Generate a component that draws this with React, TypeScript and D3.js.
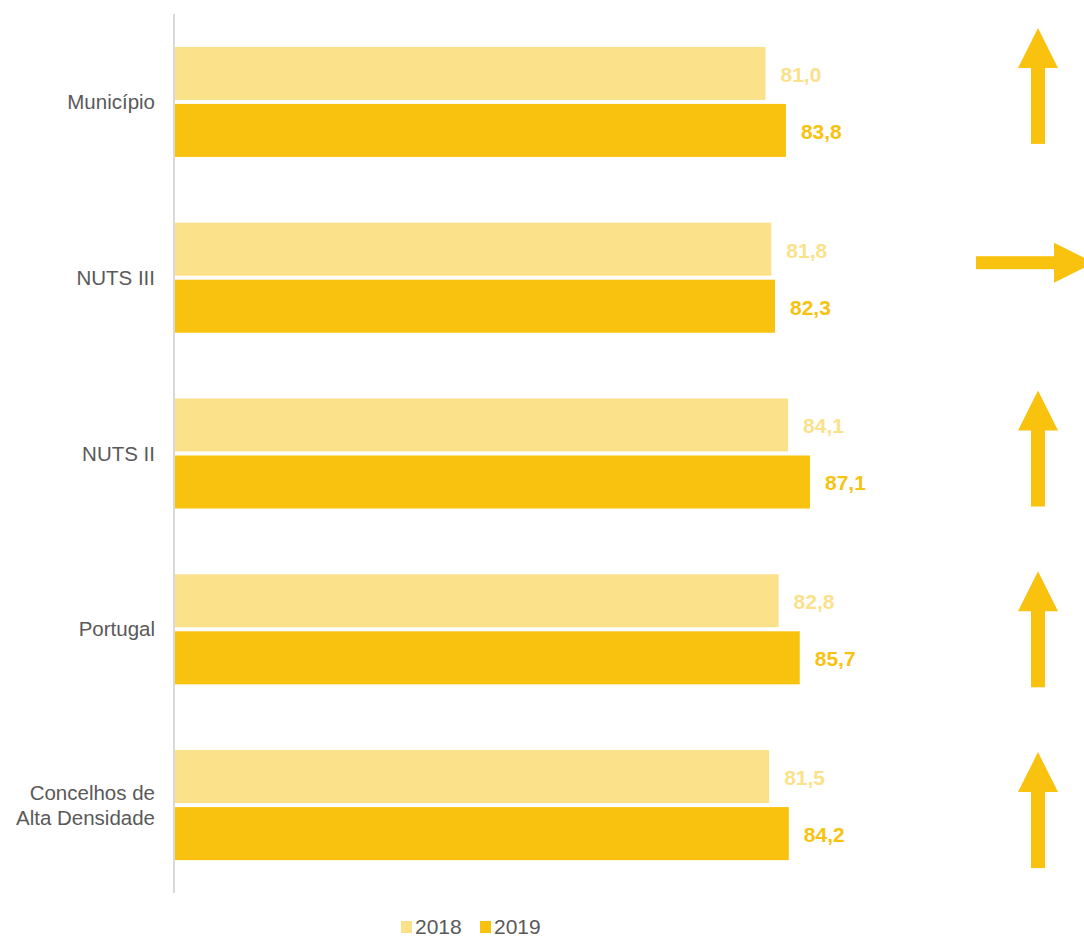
import React from "react";
import * as d3 from "d3";

const categories = ["Município", "NUTS III", "NUTS II", "Portugal", "Concelhos de\nAlta Densidade"];
const seriesNames = ["2018", "2019"];
const values2018 = [81.0, 81.8, 84.1, 82.8, 81.5];
const values2019 = [83.8, 82.3, 87.1, 85.7, 84.2];
const trends = ["up", "right", "up", "up", "up"];
const trendOffsets = [-16, -15, -5, 0, 5];

const colors: Record<string, string> = { "2018": "#FBE18A", "2019": "#F9C20E" };
const W = 1084;
const H = 937;
const FONT = "'Liberation Sans', Arial, sans-serif";

export default function App() {
  const x = d3.scaleLinear().domain([0, 100]).range([175, 904]);
  const y = d3
    .scaleBand<string>()
    .domain(categories)
    .range([14, 893])
    .paddingInner(0.374)
    .paddingOuter(0.187);
  const inner = d3
    .scaleBand<string>()
    .domain(seriesNames)
    .range([0, y.bandwidth()])
    .paddingInner(0.07);
  const fmt = (v: number) => v.toFixed(1).replace(".", ",");
  const seriesVals: Record<string, number[]> = { "2018": values2018, "2019": values2019 };

  const arrowColor = "#F9C20E";
  const arrowX = 1038;

  return (
    <svg width={W} height={H} style={{ position: "absolute", left: 0, top: 0 }} fontFamily={FONT}>
      <rect width={W} height={H} fill="#fff" />
      <line x1={174} x2={174} y1={14} y2={893} stroke="#D9D9D9" strokeWidth={2} />
      {categories.map((c, i) => {
        const y0 = y(c)!;
        const cy = y0 + y.bandwidth() / 2;
        const lines = c.split("\n");
        return (
          <g key={c}>
            {seriesNames.map((s) => {
              const v = seriesVals[s][i];
              const by = y0 + inner(s)!;
              return (
                <g key={s}>
                  <rect x={x(0)} y={by} width={x(v) - x(0)} height={inner.bandwidth()} fill={colors[s]} />
                  <text
                    x={x(v) + 15}
                    y={by + inner.bandwidth() / 2 + 1}
                    dy="0.35em"
                    fill={colors[s]}
                    fontWeight="bold"
                    fontSize={21}
                  >
                    {fmt(v)}
                  </text>
                </g>
              );
            })}
            <text x={155} y={cy} textAnchor="end" fill="#595959" fontSize={20.5}>
              {lines.map((l, k) => (
                <tspan key={k} x={155} dy={k === 0 ? `${0.35 - ((lines.length - 1) * 1.2) / 2}em` : "1.2em"}>
                  {l}
                </tspan>
              ))}
            </text>
            {trends[i] === "up" ? (
              <g transform={`translate(${arrowX},${cy + trendOffsets[i]})`}>
                <polygon points="-20,-18 0,-58 20,-18" fill={arrowColor} />
                <rect x={-7} y={-19} width={14} height={77} fill={arrowColor} />
              </g>
            ) : (
              <g transform={`translate(${arrowX},${cy + trendOffsets[i]})`}>
                <rect x={-62} y={-6.5} width={80} height={13} fill={arrowColor} />
                <polygon points="16,-20 56,0 16,20" fill={arrowColor} />
              </g>
            )}
          </g>
        );
      })}
      <g transform="translate(401,927)">
        {seriesNames.map((s, i) => (
          <g key={s} transform={`translate(${i * 79},0)`}>
            <rect x={0} y={-6} width={11} height={12} fill={colors[s]} />
            <text x={14} y={0} dy="0.35em" fill="#595959" fontSize={21}>
              {s}
            </text>
          </g>
        ))}
      </g>
    </svg>
  );
}
